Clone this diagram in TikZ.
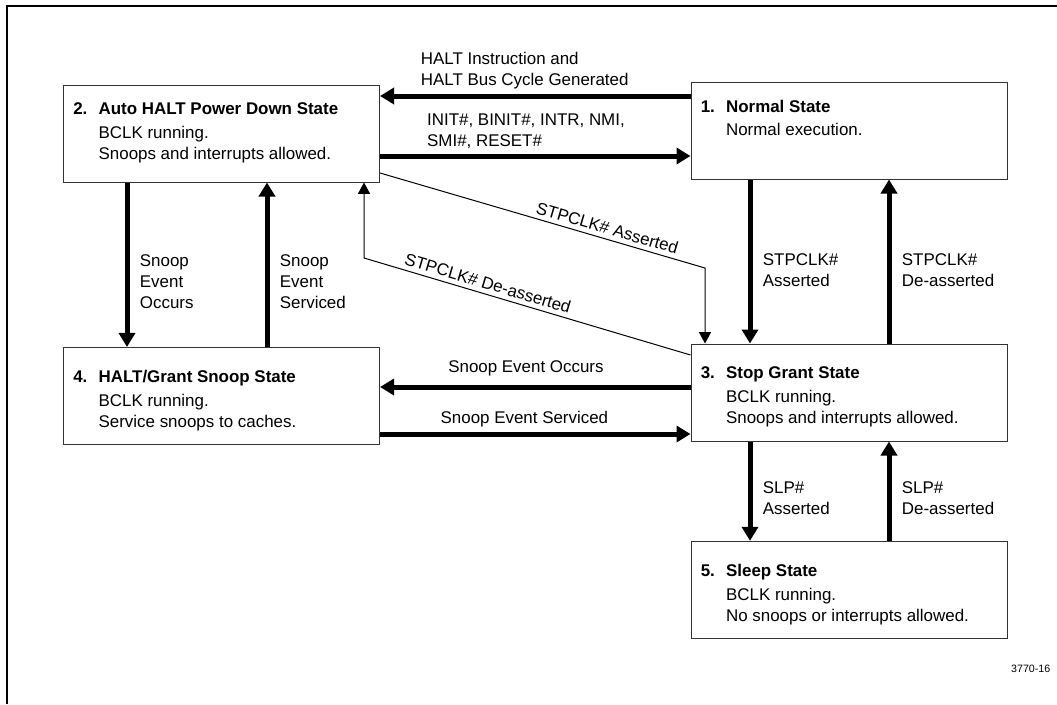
\documentclass[tikz,border=0pt]{standalone}
\usepackage{fontspec}
\setmainfont{Liberation Sans}
\usepackage{tikz}
\usetikzlibrary{arrows.meta}
\usetikzlibrary{positioning}

\newcommand{\stnum}[1]{\makebox[19pt][l]{\textbf{#1}}}
\newcommand{\stind}{\hspace*{19pt}}

\begin{document}
\begin{tikzpicture}[x=0.75pt,y=-0.75pt,node distance=196.5pt,
	state box/.style={rectangle, draw=black!80, line width=0.75pt, minimum width=237pt, minimum height=72.75pt, inner sep=0pt},
	state text/.style={anchor=north west, align=left, inner sep=0pt, font=\fontsize{12.7pt}{15.75pt}\selectfont},
	big arrow/.style={-{Triangle[length=10.5pt,width=12pt]}, line width=3.75pt},
	thin arrow/.style={-{Triangle[length=8.5pt,width=9pt]}, line width=0.75pt},
	arrow label/.style={font=\fontsize{12.7pt}{15.75pt}\selectfont, align=left}]
			\useasboundingbox (0,0) rectangle (1057,704);
			\draw[line width=1.5pt] (6.7,704) -- (6.7,6.2) -- (1057,6.2);
			
			% States
			\node[state box] (1) at (849,130.5) {};
			\node[state box] (2) [left of=1, xshift=-274.1pt, yshift=-2.25pt] {};
			\node[state box] (3) [below of=1] {};
			\node[state box] (4) [left of=3, xshift=-274.1pt, yshift=-2.6pt] {};
			\node[state box] (5) [below of=3, yshift=48.5pt] {};
			
			\node[state text] (t1) at ([xshift=7.5pt,yshift=-13.5pt]1.north west) {\stnum{1.}\textbf{Normal State}\\[2pt]\stind Normal execution.};
			\node[state text] (t2) at ([xshift=7.5pt,yshift=-13.5pt]2.north west) {\stnum{2.}\textbf{Auto HALT Power Down State}\\[2pt]\stind BCLK running.\\\stind Snoops and interrupts allowed.};
			\node[state text] (t3) at ([xshift=7.5pt,yshift=-17.25pt]3.north west) {\stnum{3.}\textbf{Stop Grant State}\\[2pt]\stind BCLK running.\\\stind Snoops and interrupts allowed.};
			\node[state text] (t4) at ([xshift=7.5pt,yshift=-17.25pt]4.north west) {\stnum{4.}\textbf{HALT/Grant Snoop State}\\[2pt]\stind BCLK running.\\\stind Service snoops to caches.};
			\node[state text] (t5) at ([xshift=7.5pt,yshift=-17.25pt]5.north west) {\stnum{5.}\textbf{Sleep State}\\[2pt]\stind BCLK running.\\\stind No snoops or interrupts allowed.};
			
			% Transitions
			\draw[big arrow] (1.west |- 0,96) -- node[arrow label, above, pos=.534] {HALT Instruction and\\HALT Bus Cycle Generated} (2.east |- 0,96);
			\draw[big arrow] (2.east |- 0,156) -- node[arrow label, above, pos=.47] {INIT\#, BINIT\#, INTR, NMI,\\SMI\#, RESET\#} (1.west |- 0,156);
			\draw[big arrow] (3.west |- 0,387) -- node[arrow label, above=3pt, pos=.53] {Snoop Event Occurs} (4.east |- 0,387);
			\draw[big arrow] (4.east |- 0,434) -- node[arrow label, above, pos=.465] {Snoop Event Serviced} (3.west |- 0,434);
			
			\draw[big arrow] (2.south -| 127,0) -- node[arrow label, right=4.5pt, pos=.6] {Snoop\\Event\\Occurs} (4.north -| 127,0);
			\draw[big arrow] (4.north -| 267,0) -- node[arrow label, right=4.5pt, pos=.4] {Snoop\\Event\\Serviced} (2.south -| 267,0);
			\draw[big arrow] (1.south -| 750,0) -- node[arrow label, right=4.5pt, pos=.55] {STPCLK\#\\Asserted} (3.north -| 750,0);
			\draw[big arrow] (3.north -| 889,0) -- node[arrow label, right=4.5pt, pos=.45] {STPCLK\#\\De-asserted} (1.south -| 889,0);
			\draw[big arrow] (3.south -| 750,0) -- node[arrow label, right=4.5pt, pos=.57] {SLP\#\\Asserted} (5.north -| 750,0);
			\draw[big arrow] (5.north -| 889,0) -- node[arrow label, right=4.5pt, pos=.43] {SLP\#\\De-asserted} (3.south -| 889,0);
			
			\coordinate (c1) at (705,268);
			\coordinate (c2) at (364,258);
			\draw[thin arrow] (2.east |- 0,173) -- node[arrow label, above, sloped, pos=.69] {STPCLK\# Asserted} (c1) -- (3.north -| c1);
			\draw[thin arrow] (3.west |- 0,355) -- node[arrow label, above, sloped, pos=.63] {STPCLK\# De-asserted} (c2) -- (2.south -| c2);
			
			\node[anchor=base east, font=\fontsize{8pt}{9.6pt}\selectfont] (fig) at (1055,672.7) {3770-16};
\end{tikzpicture}
\end{document}
